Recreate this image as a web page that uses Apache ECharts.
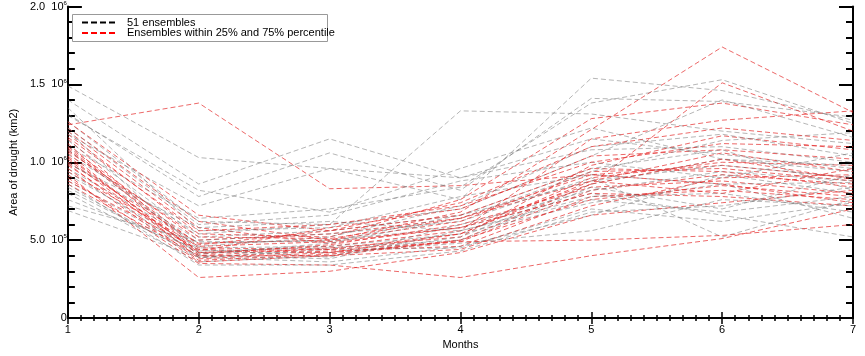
<!DOCTYPE html>
<html><head><meta charset="utf-8">
<script src="https://cdn.jsdelivr.net/npm/echarts@6/dist/echarts.min.js"></script>
<style>html,body{margin:0;padding:0;background:#fff}#c{width:865px;height:356px}</style>
</head><body><div id="c"></div>
<script>
// Values in units of 10^5 km2
const months = [1, 2, 3, 4, 5, 6, 7];
const grayName = '51 ensembles';
const redName = 'Ensembles within 25% and 75% percentile';
const grayRuns = [
  [14.9, 10.3, 9.6, 9.0, 10.8, 11.0, 10.0],
  [14.0, 8.6, 11.5, 9.0, 11.5, 10.5, 9.6],
  [13.1, 7.8, 10.6, 8.2, 14.1, 13.9, 12.9],
  [12.6, 6.2, 6.0, 13.3, 13.1, 12.0, 11.2],
  [11.8, 7.2, 9.6, 7.6, 15.4, 14.6, 12.7],
  [11.0, 6.4, 7.0, 8.4, 13.8, 15.3, 12.5],
  [10.5, 5.4, 6.0, 7.0, 10.4, 14.0, 11.6],
  [10.0, 5.0, 5.4, 6.2, 9.0, 5.2, 7.6],
  [9.6, 4.8, 5.0, 5.8, 8.0, 6.6, 5.2],
  [9.2, 4.5, 4.6, 5.4, 7.4, 8.6, 6.4],
  [8.8, 4.2, 4.2, 4.8, 5.6, 7.6, 7.2],
  [8.4, 3.9, 3.6, 4.6, 6.6, 9.2, 8.0],
  [8.0, 3.6, 4.0, 5.2, 8.6, 10.2, 9.4],
  [7.6, 4.4, 3.9, 6.0, 8.2, 9.4, 8.8],
  [7.2, 4.9, 4.9, 6.6, 9.6, 10.8, 8.2],
  [6.9, 3.9, 4.4, 4.5, 7.0, 6.2, 7.4],
  [13.5, 5.6, 5.8, 7.8, 9.2, 8.6, 8.7],
  [12.2, 6.0, 6.6, 8.8, 10.0, 9.0, 10.6],
  [11.4, 5.2, 5.6, 6.6, 8.8, 9.8, 9.0],
  [10.8, 4.6, 5.2, 7.2, 11.0, 11.8, 10.4],
  [9.9, 5.8, 6.2, 5.6, 7.8, 8.0, 6.8],
  [9.4, 4.1, 4.8, 6.4, 9.4, 11.4, 11.9],
  [8.6, 3.4, 3.4, 4.3, 6.8, 7.2, 8.4],
  [13.0, 8.2, 6.8, 9.6, 12.2, 10.2, 9.8],
  [12.0, 4.3, 4.5, 5.0, 8.4, 7.0, 9.2],
  [8.2, 4.0, 3.8, 5.6, 7.6, 6.8, 7.8]
];
const redRuns = [
  [12.4, 13.8, 8.3, 8.5, 9.2, 9.8, 9.0],
  [12.2, 6.2, 5.0, 6.8, 12.1, 17.4, 13.2],
  [12.0, 5.8, 4.8, 5.8, 8.6, 15.1, 12.0],
  [11.8, 5.4, 5.2, 7.6, 12.8, 13.8, 12.4],
  [11.5, 4.2, 4.6, 5.6, 11.5, 12.7, 13.3],
  [11.2, 4.0, 4.5, 5.2, 9.8, 11.7, 10.8],
  [11.0, 5.0, 5.4, 6.4, 8.8, 10.6, 9.4],
  [10.8, 4.5, 4.4, 4.9, 8.2, 9.2, 8.6],
  [10.6, 3.8, 4.2, 5.4, 9.0, 10.0, 9.8],
  [10.4, 4.1, 4.7, 6.0, 8.4, 8.8, 8.0],
  [10.2, 3.9, 4.3, 4.6, 7.8, 8.2, 7.6],
  [10.0, 4.8, 5.0, 6.2, 9.4, 9.6, 8.8],
  [9.8, 4.3, 5.8, 7.0, 10.4, 10.8, 10.2],
  [9.6, 3.6, 4.0, 4.4, 7.2, 9.0, 9.2],
  [9.4, 4.6, 4.9, 5.8, 8.0, 7.8, 7.2],
  [9.2, 2.6, 3.0, 4.2, 6.6, 7.4, 8.2],
  [9.0, 3.5, 3.4, 2.6, 4.0, 5.1, 7.0],
  [8.8, 4.4, 4.2, 4.9, 5.0, 5.3, 6.0],
  [8.6, 4.0, 4.0, 5.0, 7.6, 8.5, 7.8],
  [11.6, 5.6, 6.0, 7.2, 10.0, 11.2, 11.0],
  [10.9, 4.7, 5.6, 6.6, 9.6, 9.4, 8.4],
  [10.3, 4.2, 4.4, 5.4, 8.8, 8.0, 9.6],
  [12.6, 6.6, 5.6, 7.4, 11.0, 12.2, 11.4],
  [9.9, 3.7, 4.1, 5.0, 8.6, 10.2, 8.9],
  [10.7, 5.2, 5.1, 6.4, 9.2, 8.6, 7.4]
];
const yTicks = [0, 5, 10, 15, 20];
const yTickLabels = {0: ['0', ''], 5: ['5.0', '5'], 10: ['1.0', '6'], 15: ['1.5', '6'], 20: ['2.0', '6']};

const font = 'Liberation Sans, Arial, Helvetica, sans-serif';
function mkSeries(run, name, color) {
  return {
    type: 'line', name: name, xAxisIndex: 0, yAxisIndex: 0,
    data: run.map((v, i) => [months[i], v]),
    showSymbol: false, symbol: 'none', silent: true, animation: false,
    lineStyle: {color: color, width: 1, type: [5, 3]}
  };
}
const series = [];
const n = Math.max(grayRuns.length, redRuns.length);
for (let i = 0; i < n; i++) {
  if (grayRuns[i]) series.push(mkSeries(grayRuns[i], grayName, 'rgba(110,110,110,0.5)'));
  if (redRuns[i]) series.push(mkSeries(redRuns[i], redName, 'rgba(228,40,40,0.7)'));
}

const chart = echarts.init(document.getElementById('c'), null, {renderer: 'canvas'});
const axisLineStyle = {color: '#000', width: 2};
chart.setOption({
  animation: false,
  grid: {left: 65, right: 12, top: 5, bottom: 38},
  xAxis: [{
    type: 'value', min: 1, max: 7, interval: 1, position: 'bottom',
    name: 'Months', nameLocation: 'middle', nameGap: 18,
    nameTextStyle: {fontFamily: font, fontSize: 11, color: '#000'},
    axisLine: {show: true, lineStyle: axisLineStyle},
    axisTick: {show: true, inside: true, length: 6, lineStyle: {color: '#000', width: 1.5}},
    minorTick: {show: true, splitNumber: 10, length: 3, lineStyle: {color: '#000', width: 1.5}},
    axisLabel: {fontFamily: font, fontSize: 11, color: '#000', margin: 6},
    splitLine: {show: false}
  }, {
    type: 'value', min: 1, max: 7, interval: 1, position: 'top',
    axisLine: {show: true, lineStyle: axisLineStyle},
    axisTick: {show: true, inside: true, length: 6, lineStyle: {color: '#000', width: 1.5}},
    minorTick: {show: true, splitNumber: 10, length: 3, lineStyle: {color: '#000', width: 1.5}},
    axisLabel: {show: false}, splitLine: {show: false}
  }],
  yAxis: [{
    type: 'value', min: 0, max: 20, interval: 5, position: 'left',
    name: 'Area of drought (km2)', nameLocation: 'middle', nameGap: 44,
    nameTextStyle: {fontFamily: font, fontSize: 11, color: '#000'},
    axisLine: {show: true, lineStyle: axisLineStyle},
    axisTick: {show: true, inside: true, length: 14, lineStyle: {color: '#000', width: 2}},
    minorTick: {show: true, splitNumber: 5, length: 7, lineStyle: {color: '#000', width: 2}},
    axisLabel: {
      margin: 1, color: '#000',
      formatter: function (v) {
        const t = yTickLabels[v];
        if (!t) return '';
        if (!t[1]) return '{m|' + t[0] + '}';
        return '{m|' + t[0] + '  10}{s|' + t[1] + '}';
      },
      rich: {
        m: {fontFamily: font, fontSize: 11, color: '#000'},
        s: {fontFamily: font, fontSize: 6, color: '#000', verticalAlign: 'top', padding: [0, 0, 7, 0]}
      }
    },
    splitLine: {show: false}
  }, {
    type: 'value', min: 0, max: 20, interval: 5, position: 'right',
    axisLine: {show: true, lineStyle: axisLineStyle},
    axisTick: {show: true, inside: true, length: 14, lineStyle: {color: '#000', width: 2}},
    minorTick: {show: true, splitNumber: 5, length: 7, lineStyle: {color: '#000', width: 2}},
    axisLabel: {show: false}, splitLine: {show: false}
  }],
  series: series,
  graphic: [
    {type: 'rect', left: 72, top: 14, z: 100, shape: {width: 255, height: 27},
     style: {fill: '#fff', stroke: '#999', lineWidth: 1}},
    {type: 'line', z: 101, shape: {x1: 82, y1: 22.5, x2: 116, y2: 22.5},
     style: {stroke: '#000', lineWidth: 2, lineDash: [6, 3]}},
    {type: 'line', z: 101, shape: {x1: 82, y1: 33, x2: 116, y2: 33},
     style: {stroke: '#ff0000', lineWidth: 2, lineDash: [6, 3]}},
    {type: 'text', z: 101, left: 127, top: 17,
     style: {text: grayName, fontFamily: font, fontSize: 11, fill: '#000'}},
    {type: 'text', z: 101, left: 127, top: 27.5,
     style: {text: redName, fontFamily: font, fontSize: 11, fill: '#000'}}
  ]
});
</script></body></html>
